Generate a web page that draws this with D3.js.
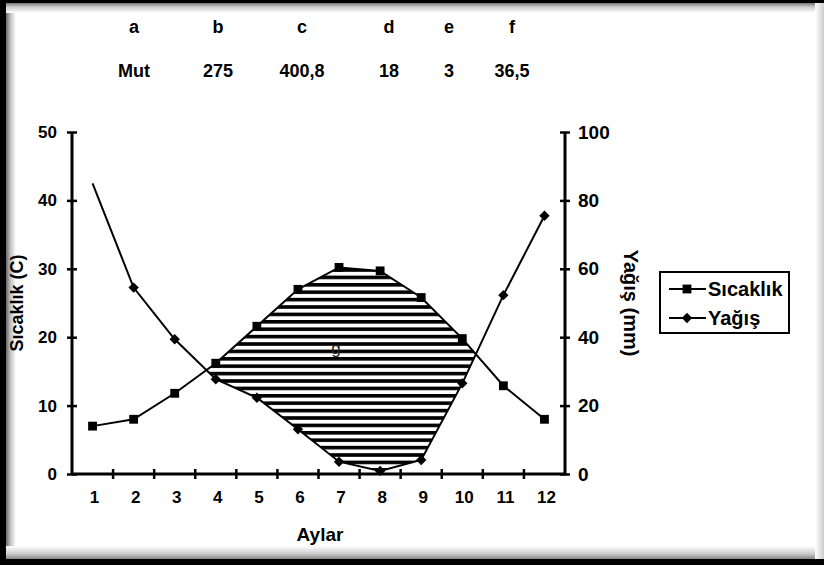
<!DOCTYPE html>
<html>
<head>
<meta charset="utf-8">
<script src="https://cdn.jsdelivr.net/npm/d3@7"></script>
<style>
  html, body { margin: 0; padding: 0; background: #fff; }
  svg text { font-family: "Liberation Sans", Arial, sans-serif; fill: #000; }
</style>
</head>
<body>
<svg id="chart" width="824" height="565"></svg>
<script>
// Monthly climate data for Mut
const months = [1, 2, 3, 4, 5, 6, 7, 8, 9, 10, 11, 12];
const sicaklik = [7, 8, 11.8, 16.2, 21.6, 27, 30.2, 29.7, 25.8, 19.8, 12.9, 8];      // °C
const yagis = [85, 54.5, 39.4, 27.7, 22.3, 13.1, 3.6, 0.9, 4.1, 26.5, 52.3, 75.5];    // mm
const tempTicks = [0, 10, 20, 30, 40, 50];
const rainTicks = [0, 20, 40, 60, 80, 100];

// Station summary table
const tableHeads = ["a", "b", "c", "d", "e", "f"];
const tableValues = ["Mut", "275", "400,8", "18", "3", "36,5"];

// Layout
const W = 824, H = 565;
const plot = { left: 72, right: 565, top: 132, bottom: 474 };
const tableCols = [134, 218, 302, 389, 449, 512];

const svg = d3.select("#chart");

// ---- frame with inner shading ----
const defs = svg.append("defs");
function grad(id, x1, y1, x2, y2, stops) {
  const g = defs.append("linearGradient").attr("id", id)
    .attr("x1", x1).attr("y1", y1).attr("x2", x2).attr("y2", y2);
  stops.forEach(s => g.append("stop").attr("offset", s[0]).attr("stop-color", s[1]));
}
grad("gl", 0, 0, 1, 0, [[0, "#666"], [0.4, "#bbb"], [1, "#fff"]]);
grad("gt", 0, 0, 0, 1, [[0, "#777"], [0.4, "#ccc"], [1, "#fff"]]);
grad("gb", 0, 1, 0, 0, [[0, "#888"], [0.4, "#ccc"], [1, "#fff"]]);
grad("gr", 1, 0, 0, 0, [[0, "#ccc"], [1, "#fff"]]);

svg.append("rect").attr("width", W).attr("height", H).attr("fill", "#fff");
svg.append("rect").attr("x", 6).attr("y", 0).attr("width", 10).attr("height", H).attr("fill", "url(#gl)");
svg.append("rect").attr("x", 0).attr("y", 3).attr("width", W).attr("height", 10).attr("fill", "url(#gt)");
svg.append("rect").attr("x", 0).attr("y", 546).attr("width", W).attr("height", 13).attr("fill", "url(#gb)");
svg.append("rect").attr("x", 815).attr("y", 0).attr("width", 9).attr("height", H).attr("fill", "url(#gr)");
svg.append("rect").attr("x", 0).attr("y", 0).attr("width", 6).attr("height", H).attr("fill", "#000");
svg.append("rect").attr("x", 0).attr("y", 0).attr("width", W).attr("height", 3).attr("fill", "#000");
svg.append("rect").attr("x", 0).attr("y", 559).attr("width", W).attr("height", 6).attr("fill", "#000");

// ---- table ----
svg.append("g").selectAll("text").data(tableHeads).join("text")
  .attr("x", (d, i) => tableCols[i]).attr("y", 33)
  .attr("text-anchor", "middle").attr("font-size", 18).attr("font-weight", "bold")
  .text(d => d);
svg.append("g").selectAll("text").data(tableValues).join("text")
  .attr("x", (d, i) => tableCols[i]).attr("y", 77)
  .attr("text-anchor", "middle").attr("font-size", 18).attr("font-weight", "bold")
  .text(d => d);

// ---- scales ----
const x = d3.scaleBand().domain(months).range([plot.left, plot.right]).paddingInner(0).paddingOuter(0);
const cx = m => x(m) + x.bandwidth() / 2;
const yT = d3.scaleLinear().domain([0, 50]).range([plot.bottom, plot.top]);
const yP = d3.scaleLinear().domain([0, 100]).range([plot.bottom, plot.top]);

const tempData = months.map((m, i) => ({ m, v: sicaklik[i] }));
const rainData = months.map((m, i) => ({ m, v: yagis[i] }));

// ---- hatched region: where temperature curve lies above precipitation curve ----
const pat = defs.append("pattern").attr("id", "hatch")
  .attr("patternUnits", "userSpaceOnUse")
  .attr("x", 0).attr("y", 320).attr("width", 20).attr("height", 7.4);
pat.append("rect").attr("x", 0).attr("y", 0).attr("width", 20).attr("height", 3.6).attr("fill", "#000");

const belowTemp = d3.area().x(d => cx(d.m)).y0(d => yT(d.v)).y1(plot.bottom + 5);
defs.append("clipPath").attr("id", "clipTemp")
  .append("path").attr("d", belowTemp(tempData));
const aboveRain = d3.area().x(d => cx(d.m)).y0(plot.top - 5).y1(d => yP(d.v));
svg.append("path").attr("d", aboveRain(rainData))
  .attr("fill", "url(#hatch)").attr("clip-path", "url(#clipTemp)");

svg.append("text").attr("x", 336).attr("y", 354).attr("text-anchor", "middle")
  .attr("font-size", 17).style("fill", "#222").text("g");

// ---- axes ----
const axisFont = (g, size) => g.selectAll("text").attr("font-size", size).attr("font-weight", "bold")
  .attr("font-family", "Liberation Sans, Arial, sans-serif");

const gl = svg.append("g").attr("transform", `translate(${plot.left},0)`)
  .call(d3.axisLeft(yT).tickValues(tempTicks).tickSize(5).tickPadding(10));
gl.select(".domain").attr("stroke-width", 3).attr("d", `M0,${plot.top}V${plot.bottom}`);
gl.selectAll(".tick line").attr("x1", 5).attr("x2", -5).attr("stroke-width", 2.5);
axisFont(gl, 17);

const gr = svg.append("g").attr("transform", `translate(${plot.right},0)`)
  .call(d3.axisRight(yP).tickValues(rainTicks).tickSize(5).tickPadding(8));
gr.select(".domain").attr("stroke-width", 3).attr("d", `M0,${plot.top}V${plot.bottom}`);
gr.selectAll(".tick line").attr("x1", -5).attr("x2", 5).attr("stroke-width", 2.5);
axisFont(gr, 19);

const gb = svg.append("g").attr("transform", `translate(0,${plot.bottom})`)
  .call(d3.axisBottom(x).tickSize(0).tickPadding(17));
gb.select(".domain").attr("stroke-width", 3).attr("d", `M${plot.left},0H${plot.right}`);
axisFont(gb, 17);
gb.selectAll(".tick text").attr("dx", 2);
// tick marks on the month boundaries
gb.selectAll("line.bound").data(months.slice(1)).join("line").attr("class", "bound")
  .attr("x1", d => x(d)).attr("x2", d => x(d)).attr("y1", -5).attr("y2", 5)
  .attr("stroke", "#000").attr("stroke-width", 2.5);

// axis titles
svg.append("text").attr("transform", `translate(23,${(plot.top + plot.bottom) / 2}) rotate(-90)`)
  .attr("text-anchor", "middle").attr("font-size", 18).attr("font-weight", "bold").text("Sıcaklık (C)");
svg.append("text").attr("transform", `translate(624,${(plot.top + plot.bottom) / 2}) rotate(90)`)
  .attr("text-anchor", "middle").attr("font-size", 20).attr("font-weight", "bold").text("Yağış (mm)");
svg.append("text").attr("x", 320).attr("y", 541).attr("text-anchor", "middle")
  .attr("font-size", 19).attr("font-weight", "bold").text("Aylar");

// ---- series ----
const lineT = d3.line().x(d => cx(d.m)).y(d => yT(d.v));
const lineP = d3.line().x(d => cx(d.m)).y(d => yP(d.v));
svg.append("path").attr("d", lineT(tempData)).attr("fill", "none").attr("stroke", "#000").attr("stroke-width", 2);
svg.append("path").attr("d", lineP(rainData)).attr("fill", "none").attr("stroke", "#000").attr("stroke-width", 2);

const square = d3.symbol().type(d3.symbolSquare).size(78);
const diamond = d3.symbol().type(d3.symbolSquare).size(54);

svg.append("g").selectAll("path").data(tempData).join("path")
  .attr("d", square).attr("transform", d => `translate(${cx(d.m)},${yT(d.v)})`).attr("fill", "#000");
// the January precipitation point is drawn without a marker
svg.append("g").selectAll("path").data(rainData.slice(1)).join("path")
  .attr("d", diamond).attr("transform", d => `translate(${cx(d.m)},${yP(d.v)}) rotate(45)`).attr("fill", "#000");

// ---- legend ----
const lg = svg.append("g").attr("transform", "translate(660,272)");
lg.append("rect").attr("width", 129).attr("height", 61).attr("fill", "#fff")
  .attr("stroke", "#000").attr("stroke-width", 2);
const legendItems = [
  { label: "Sıcaklık", sym: square, rot: 0, y: 17 },
  { label: "Yağış", sym: diamond, rot: 45, y: 46 }
];
legendItems.forEach(it => {
  lg.append("line").attr("x1", 9).attr("x2", 46).attr("y1", it.y).attr("y2", it.y)
    .attr("stroke", "#000").attr("stroke-width", 2);
  lg.append("path").attr("d", it.sym()).attr("transform", `translate(27,${it.y}) rotate(${it.rot})`);
  lg.append("text").attr("x", 48).attr("y", it.y + 7).attr("font-size", 20).attr("font-weight", "bold").text(it.label);
});
</script>
</body>
</html>
